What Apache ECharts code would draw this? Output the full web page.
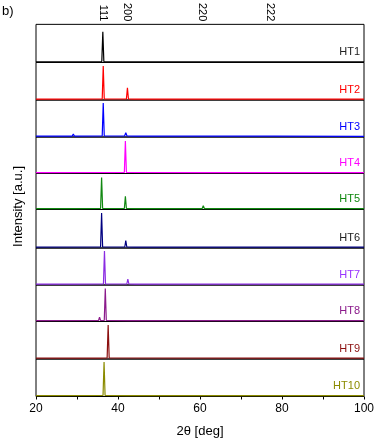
<!DOCTYPE html>
<html>
<head>
<meta charset="utf-8">
<script src="https://cdn.jsdelivr.net/npm/echarts@6/dist/echarts.min.js"></script>
<style>
  html, body { margin: 0; padding: 0; background: #fff; }
  #chart { width: 389px; height: 440px; }
</style>
</head>
<body>
<div id="chart"></div>
<script>
// sample names and line colours
const names = ["HT1", "HT2", "HT3", "HT4", "HT5", "HT6", "HT7", "HT8", "HT9", "HT10"];
const colors = ["#000000", "#ff0000", "#0000ff", "#ff00ff", "#118811", "#000080", "#8a2be2", "#8b1a8b", "#8b1010", "#8b8b00"];
const labelColors = ["#222222", "#ff0000", "#0000ff", "#ff00ff", "#118811", "#222222", "#9933ff", "#8b1a8b", "#8b1010", "#8b8b00"];

// reflections shown on top
const hklPos = [36.3, 42.2, 60.4, 77.1];
const hklText = ["111", "200", "220", "222"];

// patterns: [2theta, intensity (a.u.)]
const ht1 = [[20,0.8],[24.7,0.8],[25,1.4],[25.3,0.8],[28.8,0.8],[29.1,1.5],[29.4,0.8],[36.05,1],[36.3,33],[36.55,1],[41.6,0.8],[41.9,1.9],[42.2,0.8],[44,0.8],[44.2,1.5],[44.4,0.8],[60.9,0.8],[61.2,1.4],[61.5,0.8],[76.7,0.8],[77.1,2.6],[77.5,0.8],[100,0.7]];
const ht2 = [[20,0.8],[24.5,0.8],[24.8,1.5],[25.1,0.8],[28.8,0.8],[29.1,1.7],[29.4,0.8],[36.15,1],[36.4,34],[36.65,1],[42.05,1],[42.3,12.3],[42.55,1],[44.2,0.8],[44.4,1.7],[44.6,0.8],[73.5,0.8],[73.8,1.5],[74.1,0.8],[77.5,0.8],[77.9,2.3],[78.3,0.8],[92.1,0.8],[92.4,1.3],[92.7,0.8],[100,0.8]];
const ht3 = [[20,0.8],[24.5,0.8],[24.8,1.8],[25.1,0.8],[28.8,0.8],[29.1,2.9],[29.4,0.8],[36.15,1],[36.4,34],[36.65,1],[41.6,1],[41.9,4.3],[42.2,1],[44,0.8],[44.2,2.5],[44.4,0.8],[60.9,0.8],[61.2,1.4],[61.5,0.8],[73.1,0.8],[73.4,1.4],[73.7,0.8],[77.1,0.8],[77.5,2.2],[77.9,0.8],[100,0.7]];
const ht4 = [[20,0.8],[41.55,1],[41.8,32.5],[42.05,1],[60.5,0.8],[60.8,1.3],[61.1,0.8],[90.5,0.8],[90.9,1.5],[91.3,0.8],[100,0.8]];
const ht5 = [[20,0.8],[24.7,0.8],[25,1.8],[25.3,0.8],[28.8,0.8],[29.1,2.7],[29.4,0.8],[35.75,1],[36,32],[36.25,1],[41.55,1],[41.8,13.3],[42.05,1],[44.2,0.8],[44.4,2.6],[44.6,0.8],[60.5,0.8],[60.8,3.8],[61.1,0.8],[72.3,0.8],[72.6,1.6],[72.9,0.8],[76.3,0.8],[76.7,2.2],[77.1,0.8],[90.6,0.8],[90.9,1.2],[91.2,0.8],[100,0.8]];
const ht6 = [[20,0.8],[35.75,1],[36,35],[36.25,1],[41.65,1],[41.9,7.3],[42.15,1],[44,0.8],[44.2,1.2],[44.4,0.8],[76.3,0.8],[76.7,2.5],[77.1,0.8],[100,0.8]];
const ht7 = [[20,0.8],[24.7,0.8],[25,1.2],[25.3,0.8],[28.8,0.8],[29.1,1.4],[29.4,0.8],[36.45,1],[36.7,34],[36.95,1],[42.15,1],[42.4,6],[42.65,1],[44.2,0.8],[44.4,1.4],[44.6,0.8],[77.9,0.8],[78.3,2.2],[78.7,0.8],[100,0.8]];
const ht8 = [[20,0.8],[35.25,1],[35.5,4.3],[35.75,1],[36.0,1.8],[36.2,1],[36.65,1],[36.9,33],[37.15,1],[42.5,0.8],[42.8,1.2],[43.1,0.8],[78.1,0.8],[78.5,2.2],[78.9,0.8],[100,0.8]];
const ht9 = [[20,0.8],[36.05,0.8],[36.3,2],[36.55,1],[37.35,1],[37.6,34],[37.85,1],[79.9,0.8],[80.3,2.5],[80.7,0.8],[100,0.8]];
const ht10 = [[20,0.8],[36.35,1],[36.6,34.5],[36.85,1],[42.0,0.8],[42.3,1.3],[42.6,0.8],[77.5,0.8],[77.9,2.6],[78.3,0.8],[100,0.8]];
const patterns = [ht1, ht2, ht3, ht4, ht5, ht6, ht7, ht8, ht9, ht10];

// bottom edge of each stacked panel (px), first entry is the frame top
const edges = [21.5, 62.5, 100, 137, 173.5, 209.5, 248, 285, 321.5, 359, 396.5];

const chart = echarts.init(document.getElementById("chart"));
const font = "Liberation Sans, Arial, sans-serif";

const grids = [];
const xAxes = [];
const yAxes = [];
const series = [];
const graphics = [];

patterns.forEach((data, i) => {
  const top = edges[i];
  const h = edges[i + 1] - edges[i];
  const last = i === patterns.length - 1;
  grids.push({
    left: 36, right: 25, top: top, height: h,
    show: true, borderColor: "#000", borderWidth: 1, backgroundColor: "transparent",
  });
  xAxes.push({
    type: "value", gridIndex: i, min: 20, max: 100, interval: 10,
    show: last,
    axisLine: { show: false },
    axisTick: { show: last, inside: false, length: 3, lineStyle: { color: "#000" } },
    axisLabel: {
      show: last, color: "#000", fontFamily: font, fontSize: 12, margin: 6,
      formatter: (v) => (v % 20 === 0 ? String(v) : ""),
    },
    splitLine: { show: false },
    name: last ? "2θ [deg]" : "",
    nameLocation: "middle", nameGap: 28,
    nameTextStyle: { color: "#000", fontFamily: font, fontSize: 13 },
  });
  yAxes.push({ type: "value", gridIndex: i, min: 0, max: h, show: false });
  series.push({
    type: "line", xAxisIndex: i, yAxisIndex: i, data: data,
    showSymbol: false, smooth: false, silent: true,
    lineStyle: { color: colors[i], width: 1.2 },
  });
  graphics.push({
    type: "text", right: 29, top: edges[i + 1] - 16,
    style: { text: names[i], fill: labelColors[i], font: "11px " + font },
  });
});

// top axis with reflection labels
xAxes.push({
  type: "value", gridIndex: 0, min: 20, max: 100, position: "top",
  axisLine: { show: false }, axisTick: { show: false }, splitLine: { show: false },
  axisLabel: {
    customValues: hklPos, rotate: 90, margin: 3, color: "#000",
    fontFamily: font, fontSize: 11,
    formatter: (v) => hklText[hklPos.indexOf(v)] || "",
  },
});

graphics.push({
  type: "text", left: 2, top: 5,
  style: { text: "b)", fill: "#000", font: "13px " + font },
});
graphics.push({
  type: "text", left: 12, top: 166, rotation: Math.PI / 2,
  style: { text: "Intensity [a.u.]", fill: "#000", font: "13px " + font, align: "center", verticalAlign: "middle" },
});

chart.setOption({
  animation: false,
  grid: grids,
  xAxis: xAxes,
  yAxis: yAxes,
  series: series,
  graphic: graphics,
});
</script>
</body>
</html>
